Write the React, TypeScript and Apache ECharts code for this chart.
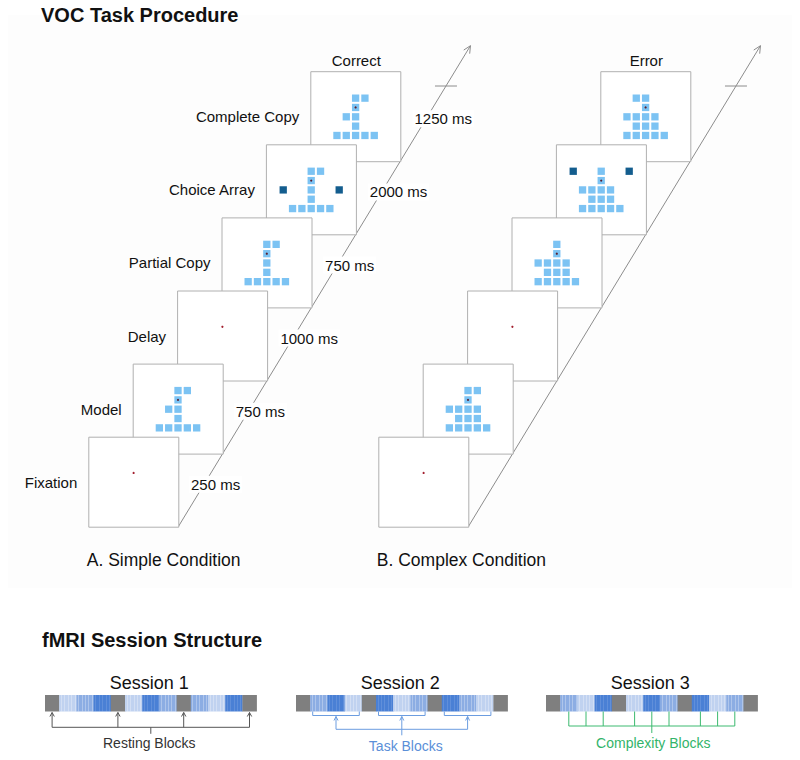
import React, { useEffect, useRef } from "react";
import * as echarts from "echarts";

// ---------- data ----------
const mainTitle = "VOC Task Procedure";
const sessionTitle = "fMRI Session Structure";
const stageNames = ["Fixation", "Model", "Delay", "Partial Copy", "Choice Array", "Complete Copy"];
const durations = ["250 ms", "750 ms", "1000 ms", "750 ms", "2000 ms", "1250 ms"];
const outcomeLabels = ["Correct", "Error"];
const conditionLabels = ["A. Simple Condition", "B. Complex Condition"];

// 7 columns per row (column -1 .. 5); x = light square, o = light square with fixation dot,
// d = fixation dot only, D = dark choice square
const fixationPattern = [".......", "...d...", ".......", ".......", "......."];
const simpleModel = ["...xx..", "...o...", "..xx...", "...x...", ".xxxxx."];
const simplePartial = ["...xx..", "...o...", "...x...", "...x...", ".xxxxx."];
const simpleChoice = ["...xx..", "...o...", "D..x..D", "...x...", ".xxxxx."];
const simpleComplete = ["...xx..", "...o...", "..xx...", "...x...", ".xxxxx."];
const complexModel = ["...xx..", "...o...", ".xxxx..", "..xxx..", ".xxxxx."];
const complexPartial = ["...x...", "...o...", ".xxxx..", "..xxx..", ".xxxxx."];
const complexChoice = ["D..x..D", "...o...", ".xxxx..", "..xxx..", ".xxxxx."];
const complexError = ["..xx...", "...o...", ".xxxx..", "..xxx..", ".xxxxx."];

const simpleStages = [fixationPattern, simpleModel, fixationPattern, simplePartial, simpleChoice, simpleComplete];
const complexStages = [fixationPattern, complexModel, fixationPattern, complexPartial, complexChoice, complexError];

const sessionNames = ["Session 1", "Session 2", "Session 3"];
// block complexity level per task block (1 light, 2 medium, 3 dark), three groups of three
const session1Blocks = [1, 2, 3, 1, 3, 2, 2, 1, 3];
const session2Blocks = [2, 3, 1, 3, 1, 2, 3, 2, 1];
const session3Blocks = [2, 1, 3, 1, 3, 2, 3, 1, 2];
const annotationLabels = ["Resting Blocks", "Task Blocks", "Complexity Blocks"];

// ---------- styles ----------
const FONT = "'Liberation Sans', Arial, Helvetica, sans-serif";
const LIGHT_SQ = "#7cc3f3";
const DARK_SQ = "#135d8e";
const DOT = "#a3202f";
const PANEL_STROKE = "#b0b0b0";
const LINE_GRAY = "#8c8c8c";
const LEVEL_COLORS = ["", "#c0d2f0", "#8cade3", "#4a80d5"];
const REST_GRAY = "#7f7f7f";
const ANN_COLORS = ["#555555", "#6c9de0", "#3dba70"];
const ANN_TEXT = ["#333333", "#5b8fd8", "#33b46a"];

function txt(x: number, y: number, text: string, size: number, opts: any = {}) {
  return {
    type: "text",
    x,
    y,
    z: opts.z ?? 10,
    style: {
      text,
      fill: opts.fill ?? "#111111",
      font: `${opts.weight ?? "normal"} ${size}px ${FONT}`,
      align: opts.align ?? "left",
      verticalAlign: "middle",
      backgroundColor: opts.bg,
      padding: opts.bg ? [1, 2, 1, 2] : undefined,
    },
  };
}

function line(x1: number, y1: number, x2: number, y2: number, stroke: string, z = 5, w = 1) {
  return { type: "line", z, shape: { x1, y1, x2, y2 }, style: { stroke, lineWidth: w } };
}

function buildElements() {
  const els: any[] = [];
  els.push({ type: "rect", z: 0, shape: { x: 8, y: 15, width: 784, height: 573 }, style: { fill: "#fdfdfd" } });

  els.push(txt(41, 15, mainTitle, 20, { weight: "bold" }));
  els.push(txt(42, 640, sessionTitle, 20, { weight: "bold" }));

  const PANEL = 90;
  const STEP_X = 44.4;
  const STEP_Y = -73.1;
  const baseXs = [88.3, 378.3];
  const baseY = 436.7;
  const CELL = 9.33;
  const SQ = 7.3;
  const conds = [simpleStages, complexStages];

  conds.forEach((stages, c) => {
    const x0 = baseXs[c];
    const brx = x0 + PANEL;
    const bry = baseY + PANEL;
    // time line
    const tTip = (bry - 45.7) / -STEP_Y;
    const tipX = brx + tTip * STEP_X;
    const tipY = bry + tTip * STEP_Y;
    els.push(line(brx, bry, tipX, tipY, LINE_GRAY, 2));
    const len = Math.hypot(STEP_X, STEP_Y);
    const ux = STEP_X / len;
    const uy = STEP_Y / len;
    const ah = 8;
    const ang = 0.45;
    const ax1 = tipX - ah * (ux * Math.cos(ang) - uy * Math.sin(ang));
    const ay1 = tipY - ah * (ux * Math.sin(ang) + uy * Math.cos(ang));
    const ax2 = tipX - ah * (ux * Math.cos(-ang) - uy * Math.sin(-ang));
    const ay2 = tipY - ah * (ux * Math.sin(-ang) + uy * Math.cos(-ang));
    els.push({ type: "polyline", z: 2, shape: { points: [[ax1, ay1], [tipX, tipY], [ax2, ay2]] }, style: { stroke: LINE_GRAY, lineWidth: 1, fill: "none" } });
    // tick
    const tTick = (bry - 86) / -STEP_Y;
    const tickX = brx + tTick * STEP_X;
    els.push(line(tickX - 11, 86, tickX + 11, 86, LINE_GRAY, 2));

    // panels from back to front
    for (let i = stages.length - 1; i >= 0; i--) {
      const L = x0 + STEP_X * i;
      const T = baseY + STEP_Y * i;
      const zb = 3 + (stages.length - i) * 0.01;
      els.push({ type: "rect", z: zb, shape: { x: L + 0.5, y: T + 0.5, width: PANEL, height: PANEL }, style: { fill: "#ffffff", stroke: PANEL_STROKE, lineWidth: 1 } });
      const pat = stages[i];
      pat.forEach((row, r) => {
        for (let k = 0; k < row.length; k++) {
          const ch = row[k];
          if (ch === ".") continue;
          const sx = L + 23 + (k - 1) * CELL;
          const sy = T + 23.3 + r * CELL;
          if (ch === "x" || ch === "o" || ch === "D") {
            els.push({ type: "rect", z: zb + 0.001, shape: { x: sx, y: sy, width: SQ, height: SQ }, style: { fill: ch === "D" ? DARK_SQ : LIGHT_SQ } });
          }
          if (ch === "o" || ch === "d") {
            els.push({ type: "circle", z: zb + 0.002, shape: { cx: sx + SQ / 2, cy: sy + SQ / 2, r: 1.1 }, style: { fill: ch === "o" ? "#5a2030" : DOT } });
          }
        }
      });
      if (c === 0) {
        els.push(txt(L - 11, T + 45.5, stageNames[i], 15, { align: "right" }));
      }
      if (i === stages.length - 1) {
        els.push(txt(L + 46, 60.3, outcomeLabels[c], 15, { align: "center" }));
      }
    }
    if (c === 0) {
      durations.forEach((d, i) => {
        els.push(txt(189 + 44.7 * i, 484.3 + STEP_Y * i, d, 15, { bg: "#ffffff", z: 8 }));
      });
    }
    els.push(txt(x0 - 1.5, 560, conditionLabels[c], 17.5));
  });

  // ---------- sessions ----------
  const sessions = [session1Blocks, session2Blocks, session3Blocks];
  const sessionX = [45, 296, 546];
  const BY = 695;
  const BH = 16.5;
  const GW = 14.2;
  const BW = 17.2;
  sessions.forEach((blocks, s) => {
    let x = sessionX[s];
    const restCenters: number[] = [];
    const blockCenters: number[] = [];
    const groupSpans: number[][] = [];
    const addRest = () => {
      els.push({ type: "rect", z: 3, shape: { x, y: BY, width: GW + 0.3, height: BH }, style: { fill: REST_GRAY } });
      restCenters.push(x + GW / 2);
      x += GW;
    };
    addRest();
    for (let g = 0; g < 3; g++) {
      const gs = x;
      for (let b = 0; b < 3; b++) {
        const lvl = blocks[g * 3 + b];
        els.push({ type: "rect", z: 3, shape: { x, y: BY, width: BW + 0.3, height: BH }, style: { fill: LEVEL_COLORS[lvl] } });
        const nStr = 5;
        for (let k = 0; k < nStr; k++) {
          const lx = Math.round(x + 1.7 + k * 3.4) + 0.5;
          els.push(line(lx, BY, lx, BY + BH, lvl === 3 ? "rgba(255,255,255,0.12)" : "rgba(255,255,255,0.3)", 4));
        }
        blockCenters.push(x + BW / 2);
        x += BW;
      }
      groupSpans.push([gs, x]);
      addRest();
    }
    const barW = x - sessionX[s];
    const cx = sessionX[s] + barW / 2;
    els.push(txt(cx - 1.5, 683.3, sessionNames[s], 18, { align: "center" }));

    const col = ANN_COLORS[s];
    const bottom = BY + BH;
    if (s === 0) {
      const hy = 727.3;
      restCenters.forEach((rx) => {
        els.push(line(rx, bottom + 1, rx, hy, col));
        els.push({ type: "polyline", z: 5, shape: { points: [[rx - 2.2, bottom + 5], [rx, bottom + 1], [rx + 2.2, bottom + 5]] }, style: { stroke: col, lineWidth: 1, fill: "none" } });
      });
      els.push(line(restCenters[0], hy, restCenters[restCenters.length - 1], hy, col));
      els.push(line(cx, hy, cx, hy + 6.5, col));
      els.push(txt(cx - 1.5, 743.3, annotationLabels[0], 14, { align: "center", fill: ANN_TEXT[0] }));
    } else if (s === 1) {
      const by = bottom + 4;
      const hy = 729.3;
      const centers: number[] = [];
      groupSpans.forEach(([a, b]) => {
        const l = a + 2.5;
        const r = b - 2.5;
        els.push(line(l, bottom, l, by, col));
        els.push(line(r, bottom, r, by, col));
        els.push(line(l, by, r, by, col));
        const m = (a + b) / 2;
        centers.push(m);
        els.push(line(m, by + 1, m, hy, col));
        els.push({ type: "polyline", z: 5, shape: { points: [[m - 2, by + 5], [m, by + 1], [m + 2, by + 5]] }, style: { stroke: col, lineWidth: 1, fill: "none" } });
      });
      els.push(line(centers[0], hy, centers[2], hy, col));
      els.push(line(cx, hy, cx, hy + 6, col));
      els.push(txt(cx + 4, 746, annotationLabels[1], 14, { align: "center", fill: ANN_TEXT[1] }));
    } else {
      const hy = 726;
      blockCenters.forEach((bx) => {
        els.push(line(bx, bottom, bx, hy, col));
      });
      els.push(line(blockCenters[0], hy, blockCenters[blockCenters.length - 1], hy, col));
      els.push(line(cx, hy, cx, hy + 7, col));
      els.push(txt(cx + 1.5, 742.7, annotationLabels[2], 14, { align: "center", fill: ANN_TEXT[2] }));
    }
  });

  return els;
}

export default function App() {
  const ref = useRef<HTMLDivElement>(null);
  useEffect(() => {
    if (!ref.current) return;
    const chart = echarts.init(ref.current, undefined, { renderer: "svg" });
    chart.setOption({
      animation: false,
      backgroundColor: "#ffffff",
      graphic: { elements: buildElements() },
    });
    return () => chart.dispose();
  }, []);
  return <div ref={ref} style={{ position: "fixed", left: 0, top: 0, width: 800, height: 760 }} />;
}
